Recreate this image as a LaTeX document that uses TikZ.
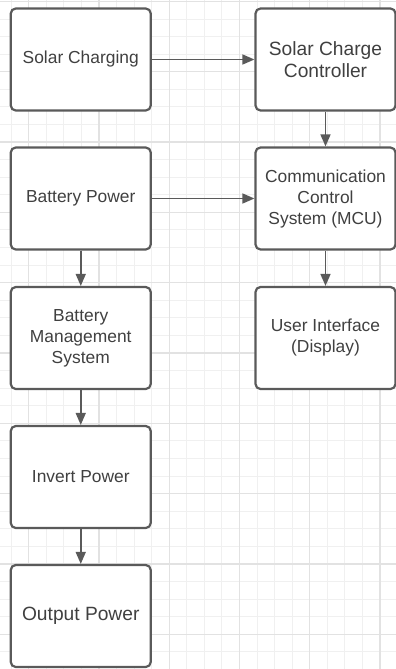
\documentclass[tikz,border=0pt]{standalone}
\usepackage{fontspec}
\setmainfont{Liberation Sans}
\usetikzlibrary{arrows.meta, positioning}
\definecolor{gridminor}{RGB}{240,240,240}
\definecolor{gridmajor}{RGB}{226,226,226}
\definecolor{boxline}{RGB}{90,90,90}
\definecolor{boxtext}{RGB}{64,64,64}

\begin{document}
\begin{tikzpicture}[
    x=1pt, y=-1pt,
    block/.style={rectangle, rounded corners=5pt, draw=boxline, fill=white,
                  line width=2.2pt, minimum width=140pt, minimum height=102pt,
                  align=center, text=boxtext, inner sep=2pt,
                  font=\fontsize{17.4}{21}\selectfont},
    bigblock/.style={block, font=\fontsize{19.2}{22.5}\selectfont},
    flow/.style={-{Triangle[length=12pt,width=10pt]}, draw=boxline, line width=1.6pt},
    minorline/.style={draw=gridminor, line width=1pt},
    majorline/.style={draw=gridmajor, line width=1.3pt}
]
    \useasboundingbox[fill=white] (0,0) rectangle (396,669);

    % Background grid
    \foreach \k in {-1,...,21}
        \draw[minorline] ({28.6+17.575*\k},0) -- ({28.6+17.575*\k},669);
    \foreach \k in {0,...,38}
        \draw[minorline] (0,{1.5+17.575*\k}) -- (396,{1.5+17.575*\k});
    \foreach \k in {0,...,5}
        \draw[majorline] ({28.6+70.3*\k},0) -- ({28.6+70.3*\k},669);
    \foreach \k in {0,...,9}
        \draw[majorline] (0,{1.5+70.3*\k}) -- (396,{1.5+70.3*\k});

    % Power path (left column)
    \node[block] (solar) at (80.75, 59.5) {Solar Charging};
    \node[block] (battery) at (80.75, 198.5) {Battery Power};
    \node[block] (bms) at (80.75, 338) {Battery\\Management\\System};
    \node[block] (invert) at (80.75, 477) {Invert Power};
    \node[bigblock] (output) at (80.75, 616) {Output Power};

    % Control path (right column)
    \node[bigblock] (controller) at (325.5, 59.5) {Solar Charge\\Controller};
    \node[block] (mcu) at (325.5, 198.5) {Communication\\Control\\System (MCU)};
    \node[block] (display) at (325.5, 338) {User Interface\\(Display)};

    % Connections
    \draw[flow] (solar) -- (controller);
    \draw[flow] (battery) -- (mcu);
    \draw[flow] (controller) -- (mcu);
    \draw[flow] (mcu) -- (display);
    \draw[flow] (battery) -- (bms);
    \draw[flow] (bms) -- (invert);
    \draw[flow] (invert) -- (output);
\end{tikzpicture}
\end{document}
